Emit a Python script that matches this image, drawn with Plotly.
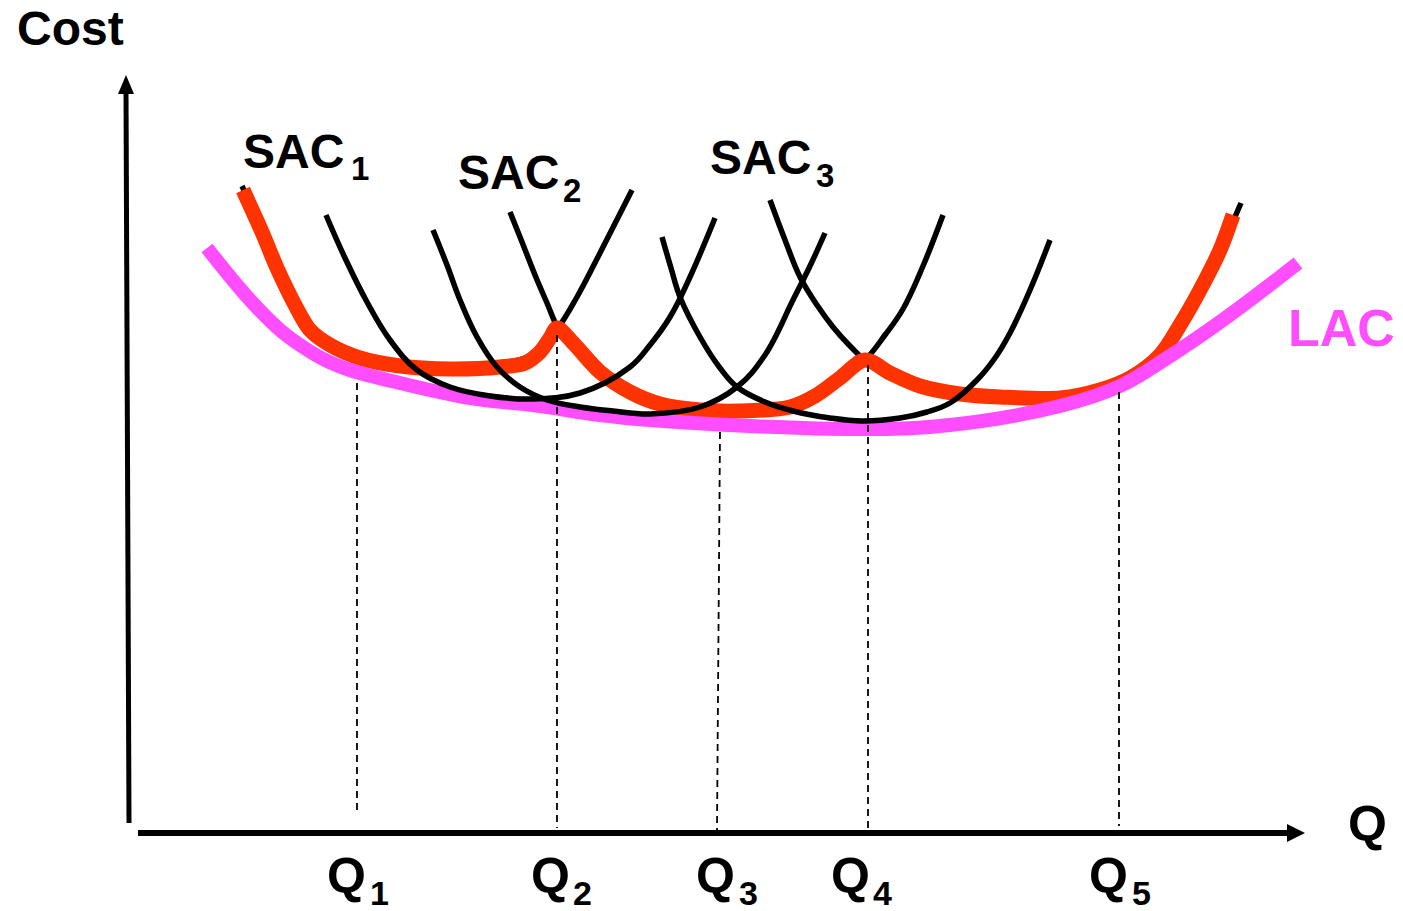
import plotly.graph_objects as go

# ---------------- data (Q = output, Cost) ----------------
# Long-run average cost (LAC)
lac_q = [77, 120, 150, 170, 195, 220, 270, 340, 403, 470, 520, 620, 737, 820, 930, 990, 1037, 1097, 1168]
lac_c = [585, 533, 503, 488, 473, 463, 450, 435, 428, 418, 413, 407, 404, 408, 427, 447, 475, 516, 570]

# Red envelope of SAC1, SAC2, SAC3
env_q = [113, 132, 147, 165, 180, 200, 230, 270, 320, 370, 395, 410, 420, 427, 445, 470, 500, 530,
         570, 610, 660, 685, 710, 735, 760, 790, 830, 870, 930, 970, 1000, 1030, 1050, 1070, 1090, 1103]
env_c = [643, 601, 565, 528, 503, 488, 475, 467, 464, 466, 470, 481, 495, 505, 488, 461, 441, 429,
         423, 422, 426, 437, 455, 473, 460, 447, 439, 436, 435, 443, 455, 478, 508, 543, 583, 618]

# Short-run average cost curves
sac1_q = [112, 132, 147, 165, 180, 200, 230, 270, 320, 370, 395, 410, 428, 447, 470, 502]
sac1_c = [647, 603, 567, 530, 505, 489, 477, 469, 467, 470, 475, 485, 505, 536, 580, 643]

sac2_q = [380, 392, 405, 417, 428, 445, 470, 500, 530, 570, 610, 660, 685, 710, 735, 755, 773, 793, 813]
sac2_c = [621, 591, 558, 530, 505, 483, 459, 440, 429, 423, 422, 426, 437, 455, 473, 498, 524, 567, 618]

sac3_q = [640, 655, 670, 687, 703, 720, 735, 760, 790, 830, 870, 930, 970, 1000, 1030, 1050, 1070, 1090, 1111]
sac3_c = [633, 593, 556, 528, 506, 487, 473, 459, 447, 439, 436, 436, 444, 456, 479, 509, 544, 583, 630]

# Intermediate plant sizes (unlabelled SAC curves)
sacb_q = [196, 215, 237, 260, 287, 320, 360, 400, 450, 500, 520, 540, 560, 585]
sacb_c = [618, 575, 531, 493, 463, 446, 437, 434, 440, 466, 488, 516, 556, 615]

sacc_q = [303, 317, 330, 347, 367, 390, 417, 450, 483, 520, 570, 607, 635, 663, 680, 695]
sacc_c = [603, 568, 533, 496, 466, 446, 433, 426, 422, 419, 426, 446, 478, 533, 567, 600]

sacd_q = [532, 541, 550, 570, 590, 607, 635, 663, 700, 732, 770, 797, 820, 847, 865, 880, 900, 920]
sacd_c = [596, 565, 536, 496, 465, 446, 431, 422, 415, 412, 415, 421, 430, 453, 475, 500, 543, 593]

# Output levels Q1..Q5 and the dashed guide lines
q_subs = ["1", "2", "3", "4", "5"]
q_top = [227, 427, 590, 738, 989]
q_bottom = [227, 427, 587, 738, 989]
guide_top_c = [450, 498, 401, 468, 441]
guide_bot_c = [21, 5, 3, 3, 7]
q_label_left = [195, 399, 564, 699, 957]
q_sub_left = [238, 441, 607, 741, 1000]

# SAC labels
sac_subs = ["1", "2", "3"]
sac_label_q = [111, 326, 578]
sac_label_c = [682, 661, 676]
sac_sub_q = [219, 431, 684]
sac_sub_c = [665, 643, 658]

RED = "#FF3300"
MAG = "#FF4DFF"
BLACK = "#000000"
FONT = "Liberation Sans"

fig = go.Figure()

def curve(q, c, color, width, smooth=1.1):
    fig.add_trace(go.Scatter(x=q, y=c, mode="lines",
                             line=dict(color=color, width=width, shape="spline", smoothing=smooth),
                             hoverinfo="skip", showlegend=False))

# labelled SACs under the red envelope
curve(sac1_q, sac1_c, BLACK, 5.5)
curve(sac2_q, sac2_c, BLACK, 5.5)
curve(sac3_q, sac3_c, BLACK, 5.5)
# red envelope
curve(env_q, env_c, RED, 15, smooth=0.9)
# LAC
curve(lac_q, lac_c, MAG, 14)
# intermediate SACs
curve(sacb_q, sacb_c, BLACK, 5.5)
curve(sacc_q, sacc_c, BLACK, 5.5)
curve(sacd_q, sacd_c, BLACK, 5.5)

# dashed guides
for qt, qb, ct, cb in zip(q_top, q_bottom, guide_top_c, guide_bot_c):
    fig.add_trace(go.Scatter(x=[qt, qb], y=[ct, cb], mode="lines",
                             line=dict(color=BLACK, width=1.8, dash="7px,5px"),
                             hoverinfo="skip", showlegend=False))

# axes with arrows
fig.add_shape(type="line", x0=-1, y0=10, x1=-4, y1=742, line=dict(color=BLACK, width=5))
fig.add_shape(type="path", path="M -4,758 L -12,739 L 4,739 Z", fillcolor=BLACK, line=dict(color=BLACK, width=0))
fig.add_shape(type="line", x0=8, y0=0, x1=1162, y1=0, line=dict(color=BLACK, width=6))
fig.add_shape(type="path", path="M 1175,0 L 1157,9 L 1157,-9 Z", fillcolor=BLACK, line=dict(color=BLACK, width=0))

# text
def label(x, y, text, size, color=BLACK, xanchor="left", yanchor="middle", yref="y"):
    fig.add_annotation(x=x, y=y, yref=yref, text="<b>" + text + "</b>", showarrow=False,
                       xanchor=xanchor, yanchor=yanchor,
                       font=dict(family=FONT, size=size, color=color))

label(-115, 1.0, "Cost", 48, yanchor="top", yref="paper")
label(1216, 9, "Q", 50)
for q, c, sq, sc, s in zip(sac_label_q, sac_label_c, sac_sub_q, sac_sub_c, sac_subs):
    label(q, c, "SAC", 48)
    label(sq, sc, s, 33)
label(1156, 505, "LAC", 52, color=MAG)
for ql, qs, s in zip(q_label_left, q_sub_left, q_subs):
    label(ql, -43, "Q", 50)
    label(qs, -60, s, 34)

fig.update_layout(
    width=1403, height=911,
    margin=dict(l=0, r=0, t=0, b=0),
    paper_bgcolor="white", plot_bgcolor="white",
    xaxis=dict(range=[-130, 1273], visible=False, fixedrange=True),
    yaxis=dict(range=[-78, 833], visible=False, fixedrange=True),
)

fig.write_html("out.html", config={"displayModeBar": False, "staticPlot": True},
               post_script="document.body.style.margin='0px';")
